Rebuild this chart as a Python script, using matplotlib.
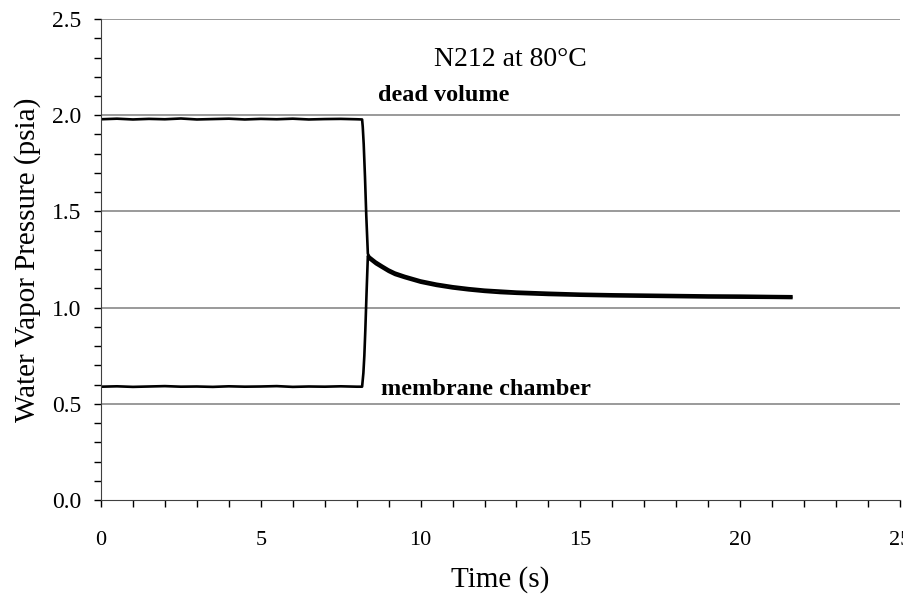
import matplotlib.pyplot as plt
from matplotlib.ticker import MultipleLocator

# dead volume pressure trace (s, psia)
time_dead = [0, 0.5, 1, 1.5, 2, 2.5, 3, 3.5, 4, 4.5, 5, 5.5, 6, 6.5, 7, 7.5, 8, 8.17,
             8.19, 8.22, 8.26, 8.30, 8.35, 8.4, 8.6, 8.8, 9.0, 9.2, 9.5, 10.0, 10.5,
             11.0, 11.5, 12.0, 12.5, 13.0, 14.0, 15.0, 16.0, 17.0, 18.0, 19.0, 20.0,
             21.0, 21.6]
p_dead = [1.979, 1.982, 1.978, 1.981, 1.979, 1.983, 1.978, 1.980, 1.982, 1.978, 1.981,
          1.979, 1.982, 1.978, 1.980, 1.981, 1.979, 1.978,
          1.94, 1.85, 1.68, 1.48, 1.280, 1.265, 1.239, 1.218, 1.198, 1.182, 1.165,
          1.141, 1.124, 1.111, 1.101, 1.093, 1.088, 1.083, 1.077, 1.072, 1.069,
          1.067, 1.065, 1.063, 1.062, 1.060, 1.059]

# membrane chamber pressure trace (s, psia)
time_mem = [0, 0.5, 1, 1.5, 2, 2.5, 3, 3.5, 4, 4.5, 5, 5.5, 6, 6.5, 7, 7.5, 8, 8.17,
            8.21, 8.24, 8.27, 8.31, 8.35, 8.4, 8.6, 8.8, 9.0, 9.2, 9.5, 10.0, 10.5,
            11.0, 11.5, 12.0, 12.5, 13.0, 14.0, 15.0, 16.0, 17.0, 18.0, 19.0, 20.0,
            21.0, 21.6]
p_mem = [0.589, 0.591, 0.588, 0.590, 0.592, 0.589, 0.590, 0.588, 0.591, 0.589, 0.590,
         0.592, 0.588, 0.590, 0.589, 0.591, 0.589, 0.589,
         0.66, 0.75, 0.88, 1.08, 1.268, 1.252, 1.226, 1.206, 1.186, 1.170, 1.154,
         1.130, 1.113, 1.100, 1.090, 1.082, 1.076, 1.072, 1.066, 1.062, 1.059,
         1.057, 1.055, 1.053, 1.052, 1.051, 1.050]

plt.rcParams['font.family'] = 'Liberation Serif'

fig = plt.figure(figsize=(9.04, 6.06), dpi=100)
ax = fig.add_axes([0.1117, 0.1749, 0.8839, 0.7937])

ax.plot(time_dead, p_dead, color='black', lw=1.9, solid_joinstyle='round')
ax.plot(time_mem, p_mem, color='black', lw=1.9, solid_joinstyle='round')

ax.set_xlim(0, 25)
ax.set_ylim(0, 2.5)
ax.xaxis.set_major_locator(MultipleLocator(5))
ax.xaxis.set_minor_locator(MultipleLocator(1))
ax.yaxis.set_major_locator(MultipleLocator(0.5))
ax.yaxis.set_minor_locator(MultipleLocator(0.1))
ax.yaxis.set_major_formatter(lambda v, pos: f'{v:.1f}')
ax.tick_params(which='both', direction='out', length=5, width=1, color='black',
               top=False, right=False)
ax.tick_params(axis='x', labelsize=16, pad=17)
ax.tick_params(axis='y', labelsize=17, pad=9)

for y in [0.5, 1.0, 1.5, 2.0, 2.5]:
    ax.axhline(y, color='#7f7f7f', lw=1.1, zorder=0)

for side in ['top', 'right']:
    ax.spines[side].set_visible(False)
ax.spines['left'].set_color('#404040')
ax.spines['bottom'].set_color('#404040')

ax.set_xlabel('Time (s)', fontsize=21, labelpad=12)
ax.set_ylabel('Water Vapor Pressure (psia)', fontsize=21, labelpad=8)

ax.text(12.8, 2.29, 'N212 at 80°C', fontsize=20, ha='center', va='center')
ax.text(10.72, 2.10, 'dead volume', fontsize=17.5, fontweight='bold', ha='center', va='center')
ax.text(12.03, 0.575, 'membrane chamber', fontsize=17.5, fontweight='bold', ha='center', va='center')

fig.savefig('out.png', dpi=100)
